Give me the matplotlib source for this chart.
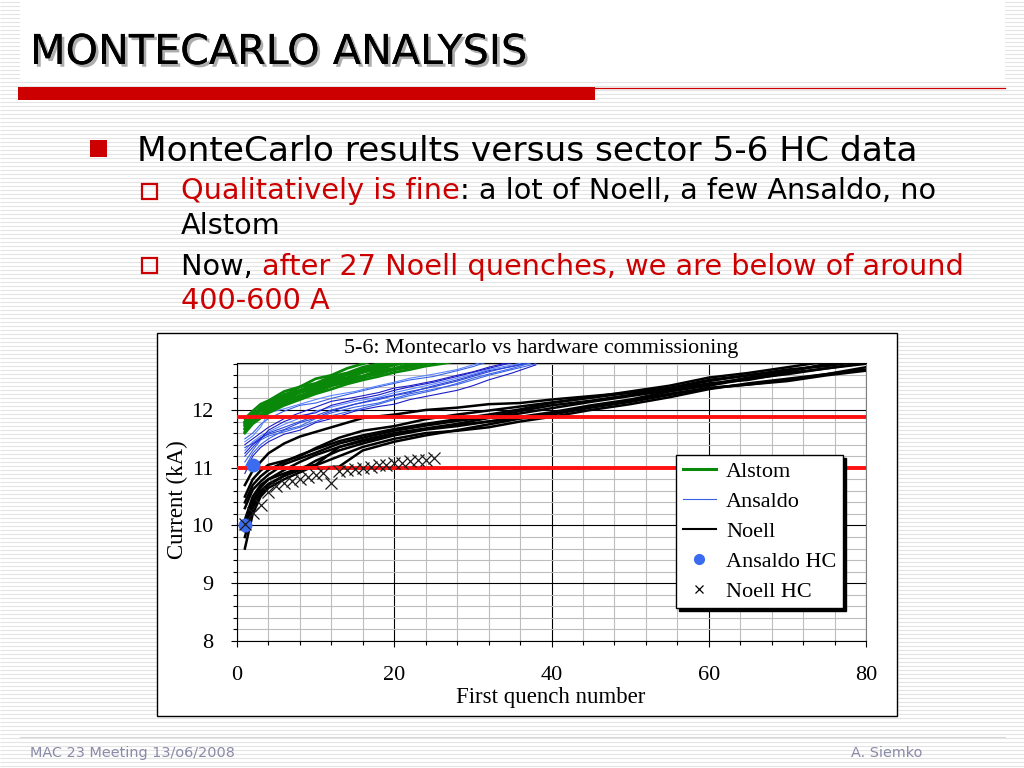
import matplotlib
matplotlib.use('Agg')
import matplotlib.pyplot as plt
import numpy as np
from matplotlib.patches import Rectangle
from matplotlib.ticker import MultipleLocator
from matplotlib.lines import Line2D
import matplotlib.patheffects as pe

# ---------------- data ----------------
x_noell = [1, 2, 3, 4, 6, 8, 10, 13, 16, 20, 24, 28, 32, 36, 40, 45, 50, 55, 60, 65, 70, 75, 80]
noell_1 = [10.70, 10.95, 11.10, 11.25, 11.42, 11.54, 11.62, 11.74, 11.86, 11.92, 12.00, 12.04, 12.10, 12.12, 12.18, 12.24, 12.30, 12.38, 12.52, 12.60, 12.70, 12.76, 12.86]
noell_2 = [10.50, 10.80, 10.95, 11.05, 11.12, 11.20, 11.34, 11.52, 11.64, 11.72, 11.84, 11.92, 11.99, 12.06, 12.13, 12.21, 12.30, 12.36, 12.46, 12.52, 12.64, 12.72, 12.80]
noell_3 = [10.30, 10.62, 10.76, 10.88, 11.06, 11.16, 11.26, 11.42, 11.52, 11.64, 11.73, 11.81, 11.88, 11.98, 12.08, 12.16, 12.26, 12.38, 12.50, 12.60, 12.68, 12.78, 12.88]
noell_4 = [10.10, 10.50, 10.70, 10.80, 10.90, 11.00, 11.05, 11.36, 11.46, 11.58, 11.67, 11.74, 11.80, 11.86, 11.94, 12.06, 12.16, 12.28, 12.38, 12.44, 12.52, 12.62, 12.70]
noell_5 = [9.90, 10.35, 10.60, 10.72, 10.86, 10.96, 11.12, 11.30, 11.42, 11.56, 11.66, 11.72, 11.80, 11.88, 11.96, 12.08, 12.18, 12.32, 12.42, 12.54, 12.62, 12.72, 12.82]
noell_6 = [9.60, 10.20, 10.50, 10.65, 10.80, 10.92, 11.04, 11.20, 11.36, 11.50, 11.60, 11.64, 11.70, 11.80, 11.88, 12.00, 12.10, 12.22, 12.36, 12.46, 12.54, 12.62, 12.74]
noell_7 = [10.00, 10.42, 10.66, 10.80, 10.96, 11.10, 11.22, 11.36, 11.48, 11.60, 11.68, 11.76, 11.86, 11.94, 12.03, 12.14, 12.24, 12.34, 12.44, 12.56, 12.66, 12.80, 12.92]
noell_8 = [10.40, 10.70, 10.85, 10.96, 11.10, 11.22, 11.32, 11.46, 11.56, 11.67, 11.76, 11.84, 11.92, 12.01, 12.12, 12.22, 12.32, 12.42, 12.56, 12.64, 12.74, 12.84, 12.90]
noell_9 = [9.80, 10.30, 10.55, 10.70, 10.86, 10.98, 11.00, 11.02, 11.30, 11.45, 11.56, 11.65, 11.75, 11.85, 11.92, 12.04, 12.14, 12.26, 12.38, 12.44, 12.50, 12.60, 12.68]
noell_runs = [noell_1, noell_2, noell_3, noell_4, noell_5, noell_6, noell_7, noell_8, noell_9]

x_alstom = [1, 2, 3, 4, 6, 8, 10, 12, 14, 16, 18, 20, 22, 24, 26, 28]
alstom_1 = [11.85, 11.98, 12.10, 12.16, 12.32, 12.40, 12.54, 12.60, 12.72, 12.80, 12.88]
alstom_2 = [11.80, 11.93, 12.02, 12.14, 12.25, 12.40, 12.46, 12.58, 12.64, 12.74, 12.80, 12.86]
alstom_3 = [11.76, 11.90, 12.00, 12.08, 12.22, 12.33, 12.45, 12.50, 12.61, 12.66, 12.76, 12.82, 12.88]
alstom_4 = [11.72, 11.86, 11.98, 12.04, 12.18, 12.30, 12.38, 12.48, 12.55, 12.66, 12.70, 12.78, 12.84]
alstom_5 = [11.68, 11.83, 11.92, 12.02, 12.16, 12.24, 12.36, 12.44, 12.54, 12.59, 12.68, 12.72, 12.80, 12.85]
alstom_6 = [11.62, 11.80, 11.90, 11.97, 12.11, 12.22, 12.30, 12.42, 12.48, 12.57, 12.62, 12.70, 12.74, 12.80, 12.86]
alstom_7 = [11.74, 11.92, 12.02, 12.10, 12.22, 12.34, 12.40, 12.52, 12.56, 12.65, 12.73, 12.78, 12.85]
alstom_8 = [11.78, 11.90, 12.05, 12.12, 12.27, 12.34, 12.44, 12.54, 12.62, 12.70, 12.76, 12.84]
alstom_9 = [11.66, 11.80, 11.91, 12.00, 12.13, 12.25, 12.32, 12.42, 12.51, 12.56, 12.65, 12.70, 12.77, 12.82]
alstom_10 = [11.60, 11.76, 11.86, 11.95, 12.08, 12.18, 12.28, 12.36, 12.45, 12.52, 12.58, 12.65, 12.70, 12.76, 12.80, 12.85]
alstom_runs = [alstom_1, alstom_2, alstom_3, alstom_4, alstom_5, alstom_6, alstom_7, alstom_8, alstom_9, alstom_10]

x_ansaldo = [1, 2, 3, 4, 6, 8, 10, 12, 15, 18, 20, 22, 25, 28, 30, 32, 35, 38]
ansaldo_1 = [11.50, 11.60, 11.75, 11.85, 11.98, 12.08, 12.12, 12.20, 12.30, 12.40, 12.46, 12.52, 12.58, 12.68, 12.75, 12.84]
ansaldo_2 = [11.40, 11.50, 11.60, 11.70, 11.85, 11.95, 12.05, 12.15, 12.22, 12.30, 12.38, 12.42, 12.50, 12.60, 12.66, 12.74, 12.84]
ansaldo_3 = [11.30, 11.45, 11.55, 11.62, 11.75, 11.86, 11.98, 12.05, 12.15, 12.22, 12.30, 12.36, 12.45, 12.55, 12.62, 12.70, 12.78, 12.86]
ansaldo_4 = [11.20, 11.35, 11.50, 11.60, 11.70, 11.80, 11.90, 12.00, 12.10, 12.20, 12.26, 12.32, 12.40, 12.50, 12.58, 12.66, 12.76, 12.84]
ansaldo_5 = [11.00, 11.25, 11.40, 11.50, 11.65, 11.72, 11.85, 11.95, 12.05, 12.12, 12.20, 12.28, 12.36, 12.44, 12.52, 12.60, 12.70, 12.80]
ansaldo_6 = [10.90, 11.20, 11.35, 11.45, 11.58, 11.65, 11.78, 11.85, 11.98, 12.06, 12.10, 12.18, 12.26, 12.34, 12.42, 12.52, 12.64, 12.78]
ansaldo_7 = [11.45, 11.55, 11.70, 11.95, 12.02, 12.10, 12.18, 12.25, 12.32, 12.42, 12.48, 12.55, 12.62, 12.70, 12.78, 12.86]
ansaldo_8 = [11.35, 11.42, 11.52, 11.58, 11.66, 11.78, 11.86, 11.98, 12.10, 12.18, 12.25, 12.30, 12.42, 12.52, 12.60, 12.68, 12.75, 12.84]
ansaldo_9 = [11.10, 11.30, 11.48, 11.55, 11.62, 11.70, 11.80, 11.90, 12.00, 12.10, 12.18, 12.25, 12.34, 12.46, 12.55, 12.62, 12.72, 12.84]
ansaldo_10 = [11.25, 11.40, 11.50, 11.65, 11.80, 11.90, 11.95, 12.08, 12.18, 12.26, 12.34, 12.40, 12.48, 12.58, 12.65, 12.72, 12.82]
ansaldo_runs = [ansaldo_1, ansaldo_2, ansaldo_3, ansaldo_4, ansaldo_5, ansaldo_6, ansaldo_7, ansaldo_8, ansaldo_9, ansaldo_10]

noell_hc_x = list(range(1, 26))
noell_hc_y = [10.02, 10.22, 10.35, 10.58, 10.68, 10.73, 10.77, 10.81, 10.84, 10.87, 10.90, 10.74,
              10.94, 10.96, 10.98, 10.99, 11.01, 11.04, 11.05, 11.08, 11.09, 11.12, 11.13, 11.14, 11.16]
ansaldo_hc_x = [1, 2]
ansaldo_hc_y = [10.0, 11.05]

red_levels = [11.87, 11.0]

title_text = "MONTECARLO ANALYSIS"
bullet_main = "MonteCarlo results versus sector 5-6 HC data"
chart_title = "5-6: Montecarlo vs hardware commissioning"
legend_labels = ["Alstom", "Ansaldo", "Noell", "Ansaldo HC", "Noell HC"]

# ---------------- figure ----------------
W, H = 1024, 768
fig = plt.figure(figsize=(W / 100, H / 100), dpi=100)
bg = fig.add_axes([0, 0, 1, 1])
bg.set_xlim(0, W)
bg.set_ylim(H, 0)
bg.axis('off')
renderer = fig.canvas.get_renderer()

# striped slide background
bg.hlines(np.arange(2, H, 4), 0, W, color='#e4e4e4', lw=0.8, zorder=0)
bg.add_patch(Rectangle((20, 0), 985, 80, fc='white', ec='none', zorder=1))
bg.add_patch(Rectangle((18, 87), 577, 13, fc='#cc0000', ec='none', zorder=2))
bg.plot([595, 1005], [87.5, 87.5], color='#cc0000', lw=0.9, zorder=2)

SANS = ['DejaVu Sans']
RED = '#cc0000'


def width_of(s, size, family=SANS):
    t = bg.text(0, 0, s, fontsize=size, family=family)
    w = t.get_window_extent(renderer).width
    t.remove()
    return w


def fit_size(s, target, family=SANS):
    return 20 * target / width_of(s, 20, family)


def put(x, y, parts, size, family=SANS, **kw):
    full = ''
    for s, c in parts:
        prev = full
        full = full + s
        off = width_of(full, size, family) - width_of(s, size, family) if prev else 0
        bg.text(x + off, y, s, color=c, fontsize=size, family=family,
                va='baseline', ha='left', zorder=5, **kw)


# title with shadow
ts = fit_size(title_text, 497)
bg.text(30, 64, title_text, fontsize=ts, family=SANS, va='baseline', ha='left', color='black', zorder=5,
        path_effects=[pe.withSimplePatchShadow(offset=(2, -2), shadow_rgbFace='#999999', alpha=0.8), pe.Normal()])

# bullets
bg.add_patch(Rectangle((90, 140), 17, 17, fc=RED, ec='none', zorder=5))
ms = fit_size(bullet_main, 781)
put(137, 161, [(bullet_main, 'black')], ms)

sub2 = [("Qualitatively is fine", RED), (": a lot of Noell, a few Ansaldo, no", 'black')]
ss = fit_size(''.join(p[0] for p in sub2), 752)
for yy in (184, 258):
    bg.add_patch(Rectangle((141.5, yy), 15, 15, fc='none', ec=RED, lw=1.6, zorder=5))
put(181, 199, sub2, ss)
put(181, 234, [("Alstom", 'black')], ss)
put(181, 275, [("Now, ", 'black'), ("after 27 Noell quenches, we are below of around", RED)], ss)
put(181, 309, [("400-600 A", RED)], ss)

# footer
bg.plot([20, 1005], [737, 737], color='#d8d8d8', lw=0.8, zorder=2)
bg.text(30, 753, "MAC 23 Meeting 13/o6/2008", fontsize=10.4, family=SANS, color='#8a8aa8',
        va='center', ha='left', zorder=5)
bg.text(922, 753, "A. Siemko", fontsize=10.4, family=SANS, color='#8a8aa8',
        va='center', ha='right', zorder=5)

# chart frame
bg.add_patch(Rectangle((157, 333), 740, 383, fc='white', ec='black', lw=1.0, zorder=3))

SERIF = ['Liberation Serif', 'DejaVu Serif']
bg.text(541, 349, chart_title, fontsize=15.8, family=SERIF, ha='center', va='center', zorder=6)
bg.text(551, 697, "First quench number", fontsize=16.5, family=SERIF, ha='center', va='center', zorder=6)
bg.text(177, 500, "Current (kA)", fontsize=16.5, family=SERIF, ha='center', va='center',
        rotation=90, zorder=6)

# ---------------- chart axes ----------------
ax_top, ax_bot = 362.6, 641
ax = fig.add_axes([237 / W, 1 - ax_bot / H, 629 / W, (ax_bot - ax_top) / H])
ax.set_facecolor('white')
ax.set_xlim(0, 80)
ax.set_ylim(8, 12.82)
ax.xaxis.set_major_locator(MultipleLocator(20))
ax.xaxis.set_minor_locator(MultipleLocator(4))
ax.yaxis.set_major_locator(MultipleLocator(1))
ax.yaxis.set_minor_locator(MultipleLocator(0.2))
ax.grid(which='minor', color='#bdbdbd', lw=0.8)
ax.grid(which='major', color='black', lw=0.8)
ax.set_axisbelow(True)
ax.tick_params(which='both', direction='out', color='black', width=0.8)
ax.tick_params(which='major', length=4)
ax.tick_params(which='minor', length=3)
ax.tick_params(axis='y', which='major', pad=13, labelsize=16)
ax.tick_params(axis='x', which='major', pad=14, labelsize=16)
for lab in ax.get_xticklabels() + ax.get_yticklabels():
    lab.set_family(SERIF)
for s in ax.spines.values():
    s.set_linewidth(0.8)
    s.set_color('black')
ax.spines['right'].set_color('#808080')

for run in noell_runs:
    ax.plot(x_noell[:len(run)], run, color='black', lw=1.8, zorder=3)
blues = ['#3a62e8', '#1c1cc8', '#5a86ff', '#2a45d8']
for i, run in enumerate(ansaldo_runs):
    ax.plot(x_ansaldo[:len(run)], run, color=blues[i % len(blues)], lw=0.8, zorder=4)
for run in alstom_runs:
    ax.plot(x_alstom[:len(run)], run, color='#0a880a', lw=2.0, zorder=5)
for lv in red_levels:
    ax.axhline(lv, color='#ff1010', lw=2.8, zorder=6)
ax.plot(ansaldo_hc_x, ansaldo_hc_y, ls='none', marker='o', ms=9, color='#3b6cf0', zorder=7)
ax.plot(noell_hc_x, noell_hc_y, ls='none', marker='x', ms=8.5, mew=0.9, color='#1a1a1a', zorder=8)

handles = [Line2D([], [], color='#0a880a', lw=2.2),
           Line2D([], [], color='#3a62e8', lw=0.8),
           Line2D([], [], color='black', lw=1.5),
           Line2D([], [], ls='none', marker='o', ms=7, color='#3b6cf0'),
           Line2D([], [], ls='none', marker='x', ms=6, mew=0.9, color='black')]
leg = ax.legend(handles, legend_labels, loc='upper left', bbox_to_anchor=(0.698, 0.668),
                prop={'family': SERIF, 'size': 16}, frameon=True, fancybox=False,
                edgecolor='black', framealpha=1, borderpad=0.3, labelspacing=0.42,
                handlelength=1.5, handletextpad=0.45, borderaxespad=0,
                shadow={'color': 'black', 'alpha': 1})
leg.get_frame().set_linewidth(1.0)
leg.set_zorder(10)

fig.savefig('out.png', dpi=100)
